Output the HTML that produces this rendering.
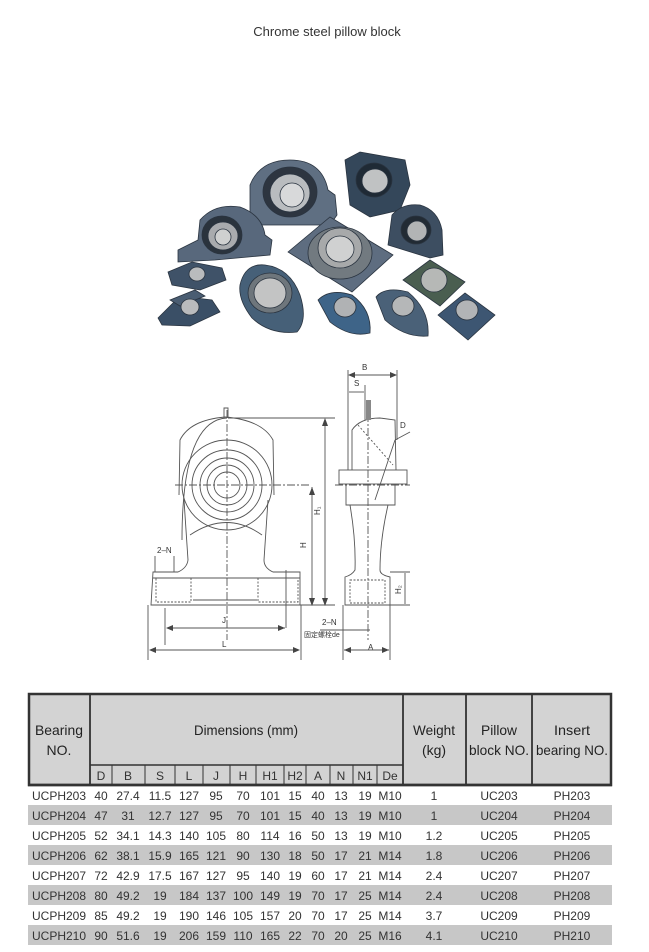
<!DOCTYPE html>
<html><head><meta charset="utf-8"><style>
html,body{margin:0;padding:0;background:#fff;}
svg{display:block;font-family:"Liberation Sans","Noto Sans CJK SC",sans-serif;}
</style></head><body>
<svg width="649" height="952" viewBox="0 0 649 952" xmlns="http://www.w3.org/2000/svg">
<rect width="649" height="952" fill="#fff"/>
<text x="327" y="36" font-size="13" fill="#333" text-anchor="middle">Chrome steel pillow block</text>

<!-- photo -->
<g stroke="#2a3440" stroke-width="0.8">
 <path d="M250 225 L250 185 Q260 160 290 160 Q322 160 328 190 L335 195 L337 215 L330 225 Z" fill="#5f6f82"/>
 <ellipse cx="290" cy="192" rx="27" ry="25" fill="#2d3540"/><ellipse cx="290" cy="193" rx="20" ry="19" fill="#b9bcbf"/><ellipse cx="292" cy="195" rx="12" ry="12" fill="#d8d9da"/>
 <path d="M345 160 L360 152 L405 160 L410 185 L400 210 L370 217 L350 205 Z" fill="#34475a"/>
 <ellipse cx="374" cy="180" rx="18" ry="17" fill="#1f2a35"/><ellipse cx="375" cy="181" rx="13" ry="12" fill="#c0c2c3"/>
 <path d="M178 250 L198 240 L200 220 Q215 203 240 207 Q262 215 265 235 L272 240 L270 255 L215 260 L178 262 Z" fill="#58687c"/>
 <ellipse cx="222" cy="235" rx="20" ry="19" fill="#2a333d"/><ellipse cx="223" cy="236" rx="15" ry="14" fill="#a9abae"/><ellipse cx="223" cy="237" rx="8" ry="8" fill="#cfd0d0"/>
 <path d="M288 252 L330 217 L393 255 L352 292 Z" fill="#5e6d80"/>
 <ellipse cx="340" cy="253" rx="32" ry="26" fill="#727a80"/><ellipse cx="340" cy="248" rx="22" ry="20" fill="#a7a9aa"/><ellipse cx="340" cy="249" rx="14" ry="13" fill="#d0d1d1"/>
 <path d="M388 245 L392 215 Q402 203 420 205 Q438 210 442 230 L443 255 L430 258 Z" fill="#3d4e61"/>
 <ellipse cx="416" cy="230" rx="15" ry="14" fill="#222b34"/><ellipse cx="417" cy="231" rx="10" ry="10" fill="#b2b4b5"/>
 <path d="M168 272 L192 262 L222 268 L226 280 L200 290 L172 285 Z" fill="#3f5268"/>
 <ellipse cx="197" cy="274" rx="8" ry="7" fill="#b9bbbd"/>
 <path d="M158 318 L180 296 L212 300 L220 312 L190 326 L162 325 Z" fill="#3a4f66"/>
 <path d="M170 300 L195 290 L205 296 L180 306 Z" fill="#4a5d72"/>
 <ellipse cx="190" cy="307" rx="9" ry="8" fill="#b9bbbd"/>
 <path d="M240 285 Q245 263 265 265 Q290 268 300 295 Q308 320 297 332 Q270 335 252 318 Q238 300 240 285 Z" fill="#466078"/>
 <ellipse cx="270" cy="293" rx="22" ry="20" fill="#6e767c"/><ellipse cx="270" cy="293" rx="16" ry="15" fill="#c3c4c4"/>
 <path d="M318 300 Q330 288 352 295 Q372 310 370 333 Q350 338 330 322 Z" fill="#3e6488"/>
 <ellipse cx="345" cy="307" rx="11" ry="10" fill="#b0b2b4"/>
 <path d="M376 297 Q385 286 408 292 Q430 310 428 336 Q405 338 385 320 Z" fill="#4a6178"/>
 <ellipse cx="403" cy="306" rx="11" ry="10" fill="#b5b7b8"/>
 <path d="M403 280 L430 260 L465 282 L440 306 Z" fill="#4a5e50"/>
 <ellipse cx="434" cy="280" rx="13" ry="12" fill="#b6b8b6"/>
 <path d="M438 315 L465 293 L495 315 L468 340 Z" fill="#3d5672"/>
 <ellipse cx="467" cy="310" rx="11" ry="10" fill="#b2b4b6"/>
</g>

<!-- drawing front view -->
<g fill="none" stroke="#555" stroke-width="0.9">
 <path d="M179 495 L180 440 Q190 420 225 417 Q262 420 273 440 L274 495"/>
 <path d="M182 540 Q182 420 227 418"/>
 <circle cx="227" cy="485" r="45"/><circle cx="227" cy="485" r="35"/><circle cx="227" cy="485" r="27"/><circle cx="227" cy="485" r="20"/><circle cx="227" cy="485" r="13"/>
 <path d="M184 500 L188 560 Q187 568 178 572 L153 572 L151 605 L300 605 L300 572 L273 572 Q264 568 264 560 L268 500"/>
 <path d="M190 535 Q227 510 262 535"/>
 <path d="M153 578 L300 578"/><path d="M193 600 L257 600"/>
 <rect x="156" y="578" width="35" height="24" stroke-dasharray="2 1.5"/>
 <rect x="258" y="578" width="40" height="24" stroke-dasharray="2 1.5"/>
 <path d="M224 418 L224 408 L228 408 L228 418"/>
 <path d="M227 410 L227 640" stroke-dasharray="8 2 2 2"/>
 <path d="M175 485 L310 485" stroke-dasharray="8 2 2 2"/>
 <path d="M228 418 L335 418"/><path d="M300 605 L335 605"/>
 <path d="M325 420 L325 604"/><path d="M312 487 L312 604"/>
 <path d="M165 608 L165 645"/><path d="M286 570 L286 628"/>
 <path d="M148 605 L148 660"/><path d="M301 605 L301 660"/>
 <path d="M167 628 L285 628"/><path d="M150 650 L299 650"/>
 <path d="M155 556 L155 572"/><path d="M174 556 L174 572"/>
</g>
<g fill="#444" stroke="none">
 <polygon points="325,418 322,426 328,426"/><polygon points="325,606 322,598 328,598"/>
 <polygon points="312,487 309,495 315,495"/><polygon points="312,606 309,598 315,598"/>
 <polygon points="166,628 173,625 173,631"/><polygon points="285,628 278,625 278,631"/>
 <polygon points="149,650 156,647 156,653"/><polygon points="300,650 293,647 293,653"/>
</g>
<g font-size="8" fill="#333">
 <text x="157" y="553">2–N</text>
 <text x="222" y="623">J</text><text x="222" y="647">L</text>
 <text x="306" y="548" transform="rotate(-90 306 548)">H</text>
 <text x="320" y="515" transform="rotate(-90 320 515)">H₁</text>
 <text x="362" y="370">B</text><text x="354" y="386">S</text><text x="400" y="428">D</text>
 <text x="322" y="625">2–N</text>
 <text x="304" y="637" font-size="7">固定螺栓de</text>
 <text x="368" y="650">A</text>
 <text x="401" y="594" transform="rotate(-90 401 594)">H₂</text>
</g>
<!-- side view -->
<g fill="none" stroke="#555" stroke-width="0.9">
 <path d="M352 470 L352 430 Q360 418 380 418 L395 420 L396 470"/>
 <path d="M358 425 L393 465" stroke-dasharray="2 2"/>
 <rect x="339" y="470" width="68" height="14"/>
 <path d="M346 484 L346 505 L395 505 L395 484"/>
 <path d="M350 505 Q356 540 355 570 Q352 575 345 577 L345 605 L390 605 L390 577 Q380 575 380 570 Q380 540 388 505"/>
 <rect x="350" y="580" width="35" height="23" stroke-dasharray="2 1.5"/>
 <path d="M368 400 L368 640" stroke-dasharray="8 2 2 2"/>
 <path d="M335 485 L410 485" stroke-dasharray="8 2 2 2"/>
 <path d="M348 370 L348 470"/><path d="M397 370 L397 440"/><path d="M365 385 L365 420"/>
 <path d="M349 375 L396 375"/><path d="M349 392 L364 392"/>
 <path d="M390 572 L410 572"/><path d="M390 605 L410 605"/><path d="M405 573 L405 604"/>
 <path d="M343 605 L343 660"/><path d="M390 605 L390 660"/>
 <path d="M344 650 L389 650"/>
 <path d="M395 440 L375 500"/><path d="M395 440 L410 432"/>
 <path d="M320 630 L370 630"/>
</g>
<g fill="#444"><polygon points="348,375 355,372 355,378"/><polygon points="397,375 390,372 390,378"/>
<polygon points="344,650 351,647 351,653"/><polygon points="389,650 382,647 382,653"/></g>
<rect x="366" y="400" width="5" height="20" fill="#888"/>

<!-- table -->
<g>
 <rect x="28" y="693" width="584" height="92" fill="#d3d3d3"/>
 <rect x="28" y="805" width="584" height="20" fill="#c7c7c7"/>
 <rect x="28" y="845" width="584" height="20" fill="#c7c7c7"/>
 <rect x="28" y="885" width="584" height="20" fill="#c7c7c7"/>
 <rect x="28" y="925" width="584" height="20" fill="#c7c7c7"/>
 <g stroke="#333" fill="none">
  <rect x="29" y="694" width="582" height="91" stroke-width="2.5"/>
  <path d="M90 694 V785 M403 694 V785 M466 694 V785 M532 694 V785" stroke-width="1.8"/>
  <path d="M90 765 H403" stroke-width="1.5"/>
  <path d="M112 765V785 M145 765V785 M175 765V785 M203 765V785 M230 765V785 M256 765V785 M284 765V785 M306 765V785 M330 765V785 M353 765V785 M377 765V785" stroke-width="1"/>
  <path d="M28 785 H612" stroke-width="2.5"/>
 </g>
 <g font-size="14" fill="#222" text-anchor="middle">
  <text x="59" y="735" textLength="48" lengthAdjust="spacingAndGlyphs">Bearing</text><text x="59" y="755">NO.</text>
  <text x="246" y="735" textLength="104" lengthAdjust="spacingAndGlyphs">Dimensions (mm)</text>
  <text x="434" y="735" textLength="42" lengthAdjust="spacingAndGlyphs">Weight</text><text x="434" y="755">(kg)</text>
  <text x="499" y="735" textLength="36" lengthAdjust="spacingAndGlyphs">Pillow</text><text x="499" y="755" textLength="60" lengthAdjust="spacingAndGlyphs">block NO.</text>
  <text x="572" y="735" textLength="36" lengthAdjust="spacingAndGlyphs">Insert</text><text x="572" y="755" textLength="72" lengthAdjust="spacingAndGlyphs">bearing NO.</text>
 </g>
 <g font-size="12" fill="#333" text-anchor="middle">
  <text x="101" y="780">D</text><text x="128" y="780">B</text><text x="160" y="780">S</text><text x="189" y="780">L</text><text x="216" y="780">J</text><text x="243" y="780">H</text><text x="270" y="780">H1</text><text x="295" y="780">H2</text><text x="318" y="780">A</text><text x="341" y="780">N</text><text x="365" y="780">N1</text><text x="390" y="780">De</text>
 </g>
 <g font-size="12" fill="#333" text-anchor="middle">
  <g transform="translate(0,800)"><text x="59">UCPH203</text><text x="101">40</text><text x="128">27.4</text><text x="160">11.5</text><text x="189">127</text><text x="216">95</text><text x="243">70</text><text x="270">101</text><text x="295">15</text><text x="318">40</text><text x="341">13</text><text x="365">19</text><text x="390">M10</text><text x="434">1</text><text x="499">UC203</text><text x="572">PH203</text></g>
  <g transform="translate(0,820)"><text x="59">UCPH204</text><text x="101">47</text><text x="128">31</text><text x="160">12.7</text><text x="189">127</text><text x="216">95</text><text x="243">70</text><text x="270">101</text><text x="295">15</text><text x="318">40</text><text x="341">13</text><text x="365">19</text><text x="390">M10</text><text x="434">1</text><text x="499">UC204</text><text x="572">PH204</text></g>
  <g transform="translate(0,840)"><text x="59">UCPH205</text><text x="101">52</text><text x="128">34.1</text><text x="160">14.3</text><text x="189">140</text><text x="216">105</text><text x="243">80</text><text x="270">114</text><text x="295">16</text><text x="318">50</text><text x="341">13</text><text x="365">19</text><text x="390">M10</text><text x="434">1.2</text><text x="499">UC205</text><text x="572">PH205</text></g>
  <g transform="translate(0,860)"><text x="59">UCPH206</text><text x="101">62</text><text x="128">38.1</text><text x="160">15.9</text><text x="189">165</text><text x="216">121</text><text x="243">90</text><text x="270">130</text><text x="295">18</text><text x="318">50</text><text x="341">17</text><text x="365">21</text><text x="390">M14</text><text x="434">1.8</text><text x="499">UC206</text><text x="572">PH206</text></g>
  <g transform="translate(0,880)"><text x="59">UCPH207</text><text x="101">72</text><text x="128">42.9</text><text x="160">17.5</text><text x="189">167</text><text x="216">127</text><text x="243">95</text><text x="270">140</text><text x="295">19</text><text x="318">60</text><text x="341">17</text><text x="365">21</text><text x="390">M14</text><text x="434">2.4</text><text x="499">UC207</text><text x="572">PH207</text></g>
  <g transform="translate(0,900)"><text x="59">UCPH208</text><text x="101">80</text><text x="128">49.2</text><text x="160">19</text><text x="189">184</text><text x="216">137</text><text x="243">100</text><text x="270">149</text><text x="295">19</text><text x="318">70</text><text x="341">17</text><text x="365">25</text><text x="390">M14</text><text x="434">2.4</text><text x="499">UC208</text><text x="572">PH208</text></g>
  <g transform="translate(0,920)"><text x="59">UCPH209</text><text x="101">85</text><text x="128">49.2</text><text x="160">19</text><text x="189">190</text><text x="216">146</text><text x="243">105</text><text x="270">157</text><text x="295">20</text><text x="318">70</text><text x="341">17</text><text x="365">25</text><text x="390">M14</text><text x="434">3.7</text><text x="499">UC209</text><text x="572">PH209</text></g>
  <g transform="translate(0,940)"><text x="59">UCPH210</text><text x="101">90</text><text x="128">51.6</text><text x="160">19</text><text x="189">206</text><text x="216">159</text><text x="243">110</text><text x="270">165</text><text x="295">22</text><text x="318">70</text><text x="341">20</text><text x="365">25</text><text x="390">M16</text><text x="434">4.1</text><text x="499">UC210</text><text x="572">PH210</text></g>
 </g>
</g>
</svg>
</body></html>
